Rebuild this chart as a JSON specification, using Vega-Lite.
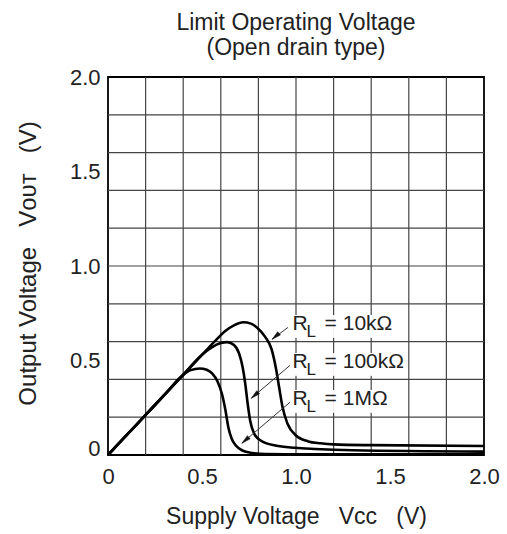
{
  "$schema": "https://vega.github.io/schema/vega-lite/v6.json",
  "width": 376,
  "height": 378,
  "autosize": "none",
  "padding": {"left": 108, "top": 77, "right": 23, "bottom": 79},
  "background": "white",
  "config": {
    "view": {"stroke": "#000", "strokeWidth": 1.8},
    "font": "Liberation Sans",
    "axis": {"grid": false, "ticks": false, "tickSize": 0, "domain": false, "labelFont": "Liberation Sans", "labelFontSize": 22, "labelColor": "#222", "titleFont": "Liberation Sans", "titleFontSize": 23, "titleFontWeight": "normal", "titleColor": "#222"}
  },
  "title": {
    "text": ["Limit Operating Voltage", "(Open drain type)"],
    "font": "Liberation Sans",
    "fontSize": 23,
    "fontWeight": "normal",
    "color": "#222",
    "lineHeight": 25,
    "anchor": "middle",
    "frame": "group",
    "offset": 6
  },
  "datasets": {
    "gridx": [{"vcc": 0.2}, {"vcc": 0.4}, {"vcc": 0.6}, {"vcc": 0.8}, {"vcc": 1.0}, {"vcc": 1.2}, {"vcc": 1.4}, {"vcc": 1.6}, {"vcc": 1.8}],
    "gridy": [{"vout": 0.2}, {"vout": 0.4}, {"vout": 0.6}, {"vout": 0.8}, {"vout": 1.0}, {"vout": 1.2}, {"vout": 1.4}, {"vout": 1.6}, {"vout": 1.8}],
    "curves": [
      {"series": "10k", "vcc": 0, "vout": 0},
      {"series": "10k", "vcc": 0.1, "vout": 0.106},
      {"series": "10k", "vcc": 0.2, "vout": 0.212},
      {"series": "10k", "vcc": 0.3, "vout": 0.318},
      {"series": "10k", "vcc": 0.4, "vout": 0.424},
      {"series": "10k", "vcc": 0.5, "vout": 0.53},
      {"series": "10k", "vcc": 0.578, "vout": 0.612},
      {"series": "10k", "vcc": 0.622, "vout": 0.655},
      {"series": "10k", "vcc": 0.67, "vout": 0.686},
      {"series": "10k", "vcc": 0.72, "vout": 0.702},
      {"series": "10k", "vcc": 0.76, "vout": 0.695},
      {"series": "10k", "vcc": 0.795, "vout": 0.672},
      {"series": "10k", "vcc": 0.836, "vout": 0.625},
      {"series": "10k", "vcc": 0.87, "vout": 0.56},
      {"series": "10k", "vcc": 0.893, "vout": 0.46},
      {"series": "10k", "vcc": 0.91, "vout": 0.36},
      {"series": "10k", "vcc": 0.928, "vout": 0.255},
      {"series": "10k", "vcc": 0.955, "vout": 0.165},
      {"series": "10k", "vcc": 1.0, "vout": 0.103},
      {"series": "10k", "vcc": 1.065, "vout": 0.072},
      {"series": "10k", "vcc": 1.13, "vout": 0.062},
      {"series": "10k", "vcc": 1.2, "vout": 0.056},
      {"series": "10k", "vcc": 1.4, "vout": 0.052},
      {"series": "10k", "vcc": 2.0, "vout": 0.048},
      {"series": "100k", "vcc": 0, "vout": 0},
      {"series": "100k", "vcc": 0.1, "vout": 0.106},
      {"series": "100k", "vcc": 0.2, "vout": 0.212},
      {"series": "100k", "vcc": 0.3, "vout": 0.318},
      {"series": "100k", "vcc": 0.4, "vout": 0.424},
      {"series": "100k", "vcc": 0.5, "vout": 0.53},
      {"series": "100k", "vcc": 0.55, "vout": 0.568},
      {"series": "100k", "vcc": 0.6, "vout": 0.592},
      {"series": "100k", "vcc": 0.635, "vout": 0.597},
      {"series": "100k", "vcc": 0.67, "vout": 0.582},
      {"series": "100k", "vcc": 0.698, "vout": 0.535},
      {"series": "100k", "vcc": 0.716, "vout": 0.465},
      {"series": "100k", "vcc": 0.73, "vout": 0.377},
      {"series": "100k", "vcc": 0.743, "vout": 0.271},
      {"series": "100k", "vcc": 0.756, "vout": 0.183},
      {"series": "100k", "vcc": 0.778, "vout": 0.112},
      {"series": "100k", "vcc": 0.812, "vout": 0.077},
      {"series": "100k", "vcc": 0.89, "vout": 0.05},
      {"series": "100k", "vcc": 0.995, "vout": 0.038},
      {"series": "100k", "vcc": 1.1, "vout": 0.032},
      {"series": "100k", "vcc": 1.3, "vout": 0.025},
      {"series": "100k", "vcc": 2.0, "vout": 0.018},
      {"series": "1M", "vcc": 0, "vout": 0},
      {"series": "1M", "vcc": 0.1, "vout": 0.106},
      {"series": "1M", "vcc": 0.2, "vout": 0.212},
      {"series": "1M", "vcc": 0.3, "vout": 0.318},
      {"series": "1M", "vcc": 0.4, "vout": 0.424},
      {"series": "1M", "vcc": 0.44, "vout": 0.449},
      {"series": "1M", "vcc": 0.488, "vout": 0.458},
      {"series": "1M", "vcc": 0.525, "vout": 0.451},
      {"series": "1M", "vcc": 0.555, "vout": 0.43},
      {"series": "1M", "vcc": 0.582, "vout": 0.39},
      {"series": "1M", "vcc": 0.607, "vout": 0.32},
      {"series": "1M", "vcc": 0.625, "vout": 0.235},
      {"series": "1M", "vcc": 0.64, "vout": 0.147},
      {"series": "1M", "vcc": 0.658, "vout": 0.086},
      {"series": "1M", "vcc": 0.68, "vout": 0.05},
      {"series": "1M", "vcc": 0.715, "vout": 0.024},
      {"series": "1M", "vcc": 0.767, "vout": 0.011},
      {"series": "1M", "vcc": 0.84, "vout": 0.005},
      {"series": "1M", "vcc": 1.0, "vout": 0.004},
      {"series": "1M", "vcc": 2.0, "vout": 0.004}
    ],
    "arrows": [
      {"series": "10k", "vcc": 0.957, "vout": 0.675, "vcc2": 0.873, "vout2": 0.612},
      {"series": "100k", "vcc": 0.968, "vout": 0.474, "vcc2": 0.762, "vout2": 0.3},
      {"series": "1M", "vcc": 0.968, "vout": 0.279, "vcc2": 0.712, "vout2": 0.062}
    ],
    "labels": [
      {"series": "10k", "vcc": 0.982, "vout": 0.664, "rest": "= 10kΩ"},
      {"series": "100k", "vcc": 0.982, "vout": 0.459, "rest": "= 100kΩ"},
      {"series": "1M", "vcc": 0.982, "vout": 0.262, "rest": "= 1MΩ"}
    ]
  },
  "layer": [
    {
      "data": {"name": "gridx"},
      "mark": {"type": "rule", "color": "#444", "strokeWidth": 1.2},
      "encoding": {
        "x": {
          "field": "vcc", "type": "quantitative",
          "scale": {"domain": [0, 2], "nice": false, "zero": false},
          "axis": {
            "values": [0, 0.5, 1, 1.5, 2],
            "labelExpr": "datum.value == 0 ? '0' : format(datum.value, '.1f')",
            "labelPadding": 11,
            "labelFlush": false,
            "title": "Supply Voltage\u00a0\u00a0\u00a0V\u1d04\u1d04\u00a0\u00a0\u00a0(V)",
            "titleFontSize": 23,
            "titleY": 68,
            "titleBaseline": "alphabetic"
          }
        }
      }
    },
    {
      "data": {"name": "gridy"},
      "mark": {"type": "rule", "color": "#444", "strokeWidth": 1.2},
      "encoding": {
        "y": {
          "field": "vout", "type": "quantitative",
          "scale": {"domain": [0, 2], "nice": false, "zero": false},
          "axis": {
            "values": [0, 0.5, 1, 1.5, 2],
            "labelExpr": "datum.value == 0 ? '0' : format(datum.value, '.1f')",
            "labelPadding": 8,
            "labelFlush": false,
            "labelOffset": {"condition": {"test": "datum.value == 0", "value": -7}, "value": 0},
            "title": "Output Voltage\u00a0\u00a0\u00a0V\u1d0f\u1d1c\u1d1b\u00a0\u00a0\u00a0(V)",
            "titleFontSize": 24,
            "titleAngle": 270,
            "titleBaseline": "alphabetic",
            "titleX": -73,
            "titleY": 186
          }
        }
      }
    },
    {
      "data": {"name": "labels"},
      "mark": {"type": "text", "align": "left", "baseline": "alphabetic", "font": "DejaVu Sans", "fontSize": 19, "color": "white", "text": "\u2588\u2588\u2588\u2588\u2588\u2588", "dx": -3, "dy": 3},
      "encoding": {
        "x": {"field": "vcc", "type": "quantitative"},
        "y": {"field": "vout", "type": "quantitative"}
      }
    },
    {
      "data": {"name": "curves"},
      "mark": {"type": "line", "interpolate": "monotone", "color": "#000", "strokeWidth": 2.6},
      "encoding": {
        "x": {"field": "vcc", "type": "quantitative"},
        "y": {"field": "vout", "type": "quantitative"},
        "detail": {"field": "series"}
      }
    },
    {
      "data": {"name": "arrows"},
      "mark": {"type": "rule", "color": "#333", "strokeWidth": 1},
      "encoding": {
        "x": {"field": "vcc", "type": "quantitative"},
        "y": {"field": "vout", "type": "quantitative"},
        "x2": {"field": "vcc2"},
        "y2": {"field": "vout2"}
      }
    },
    {
      "data": {"name": "arrows"},
      "mark": {"type": "point", "shape": "M0,0L0.3,1.3L-0.3,1.3Z", "filled": true, "fill": "#111", "stroke": "#111", "strokeWidth": 0.5, "size": 200, "angle": 229, "opacity": 1},
      "encoding": {
        "x": {"field": "vcc2", "type": "quantitative"},
        "y": {"field": "vout2", "type": "quantitative"}
      }
    },
    {
      "data": {"name": "labels"},
      "mark": {"type": "text", "align": "left", "baseline": "alphabetic", "font": "Liberation Sans", "fontSize": 21, "color": "#222", "text": "R"},
      "encoding": {
        "x": {"field": "vcc", "type": "quantitative"},
        "y": {"field": "vout", "type": "quantitative"}
      }
    },
    {
      "data": {"name": "labels"},
      "mark": {"type": "text", "align": "left", "baseline": "alphabetic", "font": "Liberation Sans", "fontSize": 17, "color": "#222", "text": "L", "dx": 14, "dy": 7},
      "encoding": {
        "x": {"field": "vcc", "type": "quantitative"},
        "y": {"field": "vout", "type": "quantitative"}
      }
    },
    {
      "data": {"name": "labels"},
      "mark": {"type": "text", "align": "left", "baseline": "alphabetic", "font": "Liberation Sans", "fontSize": 21, "color": "#222", "dx": 32},
      "encoding": {
        "x": {"field": "vcc", "type": "quantitative"},
        "y": {"field": "vout", "type": "quantitative"},
        "text": {"field": "rest"}
      }
    }
  ]
}
